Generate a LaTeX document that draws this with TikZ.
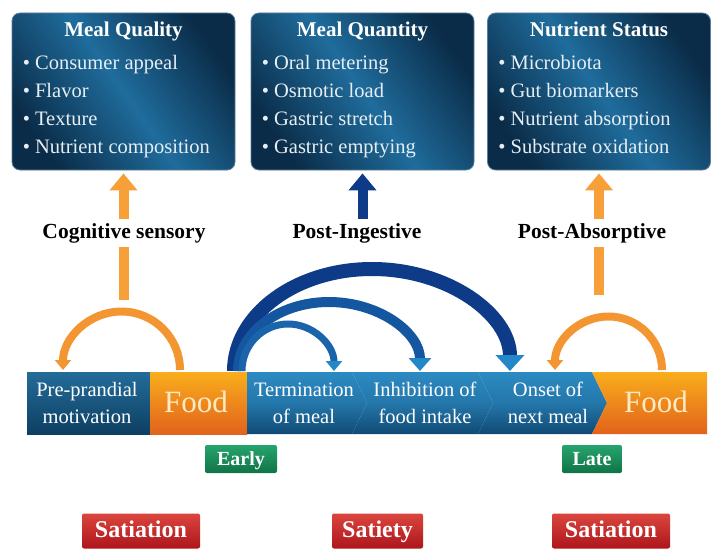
\documentclass[tikz,border=0pt]{standalone}
\usepackage{fontspec}
\setmainfont{Liberation Serif}
\usetikzlibrary{arrows.meta,positioning}

\definecolor{boxdark}{HTML}{0A2C48}
\definecolor{boxlight}{HTML}{1F6C9C}
\definecolor{boxline}{HTML}{5C7F99}
\definecolor{itemtxt}{HTML}{E6EEF4}
\definecolor{barhi}{HTML}{2C8AC2}
\definecolor{barlo}{HTML}{104A74}
\definecolor{prehi}{HTML}{236C9A}
\definecolor{prelo}{HTML}{0E3F62}
\definecolor{foodhi}{HTML}{F9AE1C}
\definecolor{foodlo}{HTML}{E2621C}
\definecolor{foodtxt}{HTML}{FDEBC6}
\definecolor{orarr}{HTML}{F7A03A}
\definecolor{orloop}{HTML}{F39530}
\definecolor{navy}{HTML}{0D3B87}
\definecolor{midblue}{HTML}{1556A0}
\definecolor{lowblue}{HTML}{1A64AB}
\definecolor{tipblue}{HTML}{2388CA}
\definecolor{greenhi}{HTML}{26A46E}
\definecolor{greenlo}{HTML}{107447}
\definecolor{redhi}{HTML}{DA463E}
\definecolor{redlo}{HTML}{AE151B}

\begin{document}
\begin{tikzpicture}[x=1pt,y=-1pt,
  infobox/.style={rounded corners=8pt, minimum width=223pt, minimum height=157pt,
    draw=boxline, line width=0.8pt, left color=boxdark, right color=boxdark,
    middle color=boxlight, shading angle=125},
  boxtitle/.style={text=white, font=\bfseries\fontsize{21}{25}\selectfont, inner sep=0pt, anchor=base},
  boxitems/.style={text=itemtxt, align=left, inner sep=0pt,
    font=\fontsize{20.5}{28}\selectfont},
  flowlbl/.style={fill=white, inner sep=4pt, font=\bfseries\fontsize{21.5}{24}\selectfont},
  uparr/.style={line width=10pt, -{Triangle[width=27pt,length=17pt]}, shorten >=3pt},
  segblue/.style={top color=prehi, bottom color=prelo},
  segblue2/.style={top color=barhi, bottom color=barlo, middle color=barhi!70!barlo},
  segorange/.style={top color=foodhi, bottom color=foodlo, middle color=foodhi!50!foodlo},
  barlbl/.style={text=white, align=center, inner sep=0pt,
    font=\fontsize{20.5}{27}\selectfont},
  foodlbl/.style={text=foodtxt, inner sep=0pt, font=\fontsize{31}{31}\selectfont},
  loopy/.style={orloop, line width=8pt, -{Triangle[width=16pt,length=10pt]}},
  stage/.style={top color=greenhi, bottom color=greenlo, rounded corners=2pt,
    text=white, font=\bfseries\fontsize{20}{22}\selectfont, minimum height=28pt,
    text height=13pt, text depth=1pt},
  phase/.style={top color=redhi, bottom color=redlo, rounded corners=2pt,
    text=white, font=\bfseries\fontsize{24}{26}\selectfont, minimum height=35pt,
    text height=16pt, text depth=3pt}
]
\useasboundingbox (0,0) rectangle (720,559);

% top boxes
\node[infobox] (qual) at (123.5,91.5) {};
\node[infobox] (quan) at (362.5,91.5) {};
\node[infobox] (stat) at (599,91.5) {};

\node[boxtitle] (qualT) at ([yshift=-24]qual.north) {Meal Quality};
\node[boxtitle] (quanT) at ([yshift=-24]quan.north) {Meal Quantity};
\node[boxtitle] (statT) at ([yshift=-24]stat.north) {Nutrient Status};

\node[boxitems, anchor=north west] (qualL) at ([xshift=11,yshift=-42]qual.north west)
  {\textbullet\ Consumer appeal\\ \textbullet\ Flavor\\ \textbullet\ Texture\\ \textbullet\ Nutrient composition};
\node[boxitems, anchor=north west] (quanL) at ([xshift=11,yshift=-42]quan.north west)
  {\textbullet\ Oral metering\\ \textbullet\ Osmotic load\\ \textbullet\ Gastric stretch\\ \textbullet\ Gastric emptying};
\node[boxitems, anchor=north west] (statL) at ([xshift=11,yshift=-42]stat.north west)
  {\textbullet\ Microbiota\\ \textbullet\ Gut biomarkers\\ \textbullet\ Nutrient absorption\\ \textbullet\ Substrate oxidation};

% up arrows
\coordinate (cogA) at (123.5,300);
\coordinate (ingA) at (362.5,222);
\coordinate (absA) at (599,295);
\draw[uparr, orarr] (cogA) -- (qual.south);
\draw[uparr, navy] (ingA) -- (quan.south);
\draw[uparr, orarr] (absA) -- (stat.south);

\node[flowlbl] (cog) at (124,233) {Cognitive sensory};
\node[flowlbl] (ing) at (357,233) {Post-Ingestive};
\node[flowlbl] (abs) at (592,233) {Post-Absorptive};

% the bar
\path[segblue] (27,372) rectangle (150,434);
\path[segorange] (150,372) rectangle (247,434);
\path[segblue2] (247,372) -- (352,372) -- (367,403) -- (352,434) -- (247,434) -- cycle;
\path[segblue2] (352,372) -- (478,372) -- (493,403) -- (478,434) -- (352,434) -- (367,403) -- cycle;
\path[segblue2] (478,372) -- (592,372) -- (607,403) -- (592,434) -- (478,434) -- (493,403) -- cycle;
\path[segorange] (592,372) -- (707,372) -- (707,434) -- (592,434) -- (607,403) -- cycle;

\node[barlbl] (pre) at (87,403) {Pre-prandial\\motivation};
\node[foodlbl] (food1) at (196,402) {Food};
\node[barlbl] (term) at (304,403) {Termination\\of meal};
\node[barlbl] (inhib) at (425,403) {Inhibition of\\food intake};
\node[barlbl] (onset) at (548,403) {Onset of\\next meal};
\node[foodlbl] (food2) at (656,402) {Food};

% loops back from food
\coordinate (loopL) at (180,370);
\coordinate (loopR) at (662,370);
\draw[loopy] (loopL) arc[start angle=0, end angle=-180, radius=58.5];
\draw[loopy] (loopR) arc[start angle=0, end angle=-180, radius=53.5];

% feedback arcs
\coordinate (stem1) at (234,371);
\coordinate (stem2) at (238,371);
\coordinate (stem3) at (242,371);
\draw[navy, line width=14pt, -{Triangle[width=28pt,length=16pt,color=tipblue]}]
  (stem1) arc[start angle=180, end angle=360, x radius=138, y radius=102];
\draw[midblue, line width=10pt, -{Triangle[width=22pt,length=13pt,color=tipblue]}]
  (stem2) arc[start angle=180, end angle=360, x radius=91, y radius=69];
\draw[lowblue, line width=7pt, -{Triangle[width=16pt,length=10pt,color=tipblue]}]
  (stem3) arc[start angle=180, end angle=360, x radius=46, y radius=47];

% stage tags
\node[stage, minimum width=72pt] (early) at (241,459) {Early};
\node[stage, minimum width=60pt] (late) at (592,459) {Late};

\node[phase, minimum width=118pt] (sat1) at (141,531) {Satiation};
\node[phase, minimum width=91pt] (sat2) at (377.5,531) {Satiety};
\node[phase, minimum width=118pt] (sat3) at (611,531) {Satiation};
\end{tikzpicture}
\end{document}
